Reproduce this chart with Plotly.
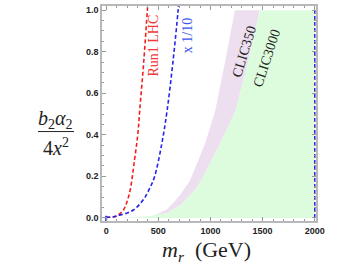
import plotly.graph_objects as go

# ---- data ----
red_x = [0, 60, 102, 130, 166, 223, 271, 303, 322, 360, 395, 410]
red_y = [0.003, 0.004, 0.008, 0.02, 0.038, 0.118, 0.277, 0.4, 0.52, 0.75, 1.0, 1.1]

blue_x = [0, 60, 102, 180, 261, 320, 373, 420, 463, 533, 585, 640, 690, 705]
blue_y = [0.003, 0.004, 0.01, 0.02, 0.038, 0.065, 0.10, 0.145, 0.197, 0.356, 0.52, 0.75, 1.0, 1.1]

clic350_x = [0, 250, 420, 485, 580, 650, 708, 804, 947, 1045, 1140, 1234]
clic350_y = [0.0, 0.002, 0.008, 0.018, 0.04, 0.075, 0.11, 0.18, 0.356, 0.515, 0.75, 1.0]

clic3000_x = [0, 230, 400, 580, 708, 760, 860, 930, 1091, 1240, 1360, 1474]
clic3000_y = [0.0, 0.002, 0.008, 0.022, 0.06, 0.086, 0.14, 0.197, 0.356, 0.515, 0.75, 1.0]

x_max = 2000
y_top = 1.0

x_ticks = [0, 500, 1000, 1500, 2000]
y_ticks = [0.0, 0.2, 0.4, 0.6, 0.8, 1.0]

PURPLE = "#eedff0"
GREEN = "#ddfcdd"
RED = "#f51e1e"
BLUE = "#2525f0"

fig = go.Figure()

# CLIC350 band (between CLIC350 and CLIC3000 boundaries)
fig.add_trace(go.Scatter(
    x=clic350_x + clic3000_x[::-1],
    y=clic350_y + clic3000_y[::-1],
    fill="toself", fillcolor=PURPLE, mode="lines",
    line=dict(width=0, color=PURPLE), hoverinfo="skip", showlegend=False))

# CLIC3000 region
fig.add_trace(go.Scatter(
    x=clic3000_x + [x_max, x_max],
    y=clic3000_y + [y_top, 0.0],
    fill="toself", fillcolor=GREEN, mode="lines",
    line=dict(width=0, color=GREEN), hoverinfo="skip", showlegend=False))

# right-edge dashed line
fig.add_trace(go.Scatter(x=[x_max, x_max], y=[0, y_top], mode="lines",
                         line=dict(color=BLUE, width=1.5, dash="4px,2px"),
                         hoverinfo="skip", showlegend=False))
fig.add_trace(go.Scatter(x=[x_max, x_max], y=[0, y_top], mode="lines",
                         line=dict(color="#f07040", width=1, dash="1px,5px"),
                         hoverinfo="skip", showlegend=False))
# small blue tick at origin
fig.add_trace(go.Scatter(x=[0, 0], y=[-0.03, 0.01], mode="lines",
                         line=dict(color=BLUE, width=2),
                         hoverinfo="skip", showlegend=False))

fig.add_trace(go.Scatter(x=red_x, y=red_y, mode="lines",
                         line=dict(color=RED, width=1.6, dash="4px,2.5px", shape="spline"),
                         hoverinfo="skip", showlegend=False))
fig.add_trace(go.Scatter(x=blue_x, y=blue_y, mode="lines",
                         line=dict(color=BLUE, width=1.6, dash="4px,2.5px", shape="spline"),
                         hoverinfo="skip", showlegend=False))

serif = "Liberation Serif"
ann = [
    dict(x=450, y=0.83, xref="x", yref="y", text="Run1 LHC", textangle=-90,
         font=dict(family=serif, size=14, color="#f03a3a"), showarrow=False),
    dict(x=780, y=0.877, xref="x", yref="y", text="x 1/10", textangle=-90,
         font=dict(family=serif, size=14, color="#3a55f0"), showarrow=False),
    dict(x=1325, y=0.80, xref="x", yref="y", text="CLIC350", textangle=-73,
         font=dict(family=serif, size=14, color="#222222"), showarrow=False),
    dict(x=1545, y=0.77, xref="x", yref="y", text="CLIC3000", textangle=-72,
         font=dict(family=serif, size=14, color="#222222"), showarrow=False),
    # y-axis label as a fraction
    dict(x=-0.215, y=0.47, xref="paper", yref="paper",
         text="<i>b</i><sub>2</sub><i>α</i><sub>2</sub>",
         font=dict(family=serif, size=20, color="#222222"), showarrow=False,
         xanchor="center", yanchor="middle"),
    dict(x=-0.215, y=0.345, xref="paper", yref="paper",
         text="4<i>x</i><sup>2</sup>",
         font=dict(family=serif, size=20, color="#222222"), showarrow=False,
         xanchor="center", yanchor="middle"),
    # x-axis title
    dict(x=0.486, y=-0.14, xref="paper", yref="paper",
         text="<i>m</i><sub><i>r</i></sub>  (GeV)",
         font=dict(family=serif, size=22, color="#222222"), showarrow=False,
         xanchor="center", yanchor="middle"),
]

fig.update_layout(
    width=356, height=267,
    margin=dict(l=102, r=40, t=4, b=46),
    plot_bgcolor="white", paper_bgcolor="white",
    annotations=ann,
    shapes=[dict(type="line", xref="paper", yref="paper",
                 x0=-0.299, x1=-0.131, y0=0.416, y1=0.416,
                 line=dict(color="#222222", width=1))],
)

axis_common = dict(
    showgrid=False, zeroline=False, showline=True, mirror="allticks",
    linecolor="#b8b8b8", linewidth=1.5,
    ticks="inside", ticklen=4, tickwidth=1, tickcolor="#999999",
    tickfont=dict(family="Liberation Sans", size=9, color="#222222", weight="bold"),
)

fig.update_xaxes(range=[-40, 2012], tickvals=x_ticks,
                 minor=dict(ticks="inside", ticklen=2, dtick=100, tick0=0, tickcolor="#999999"),
                 **axis_common)
fig.update_yaxes(range=[-0.015, 1.02], tickvals=y_ticks, tickformat=".1f",
                 minor=dict(ticks="inside", ticklen=2, dtick=0.05, tick0=0, tickcolor="#999999"),
                 **axis_common)

fig.write_html("out.html", config={"displayModeBar": False},
               post_script="document.body.style.margin='0';document.body.style.overflow='hidden';")
